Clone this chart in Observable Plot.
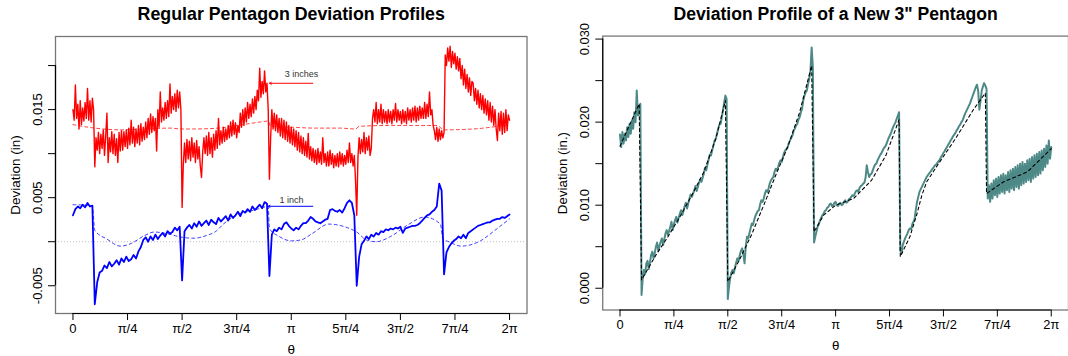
<!DOCTYPE html>
<html><head><meta charset="utf-8">
<script src="https://cdn.jsdelivr.net/npm/d3@7"></script>
<script src="https://cdn.jsdelivr.net/npm/@observablehq/plot@0.6"></script>
<style>
body{margin:0;background:#fff;}
#fig{position:relative;width:1068px;height:356px;overflow:hidden;background:#fff;}
.panel{position:absolute;top:0;}
</style></head><body>
<div id="fig"><div class="panel" id="left" style="left:0"></div><div class="panel" id="right" style="left:534px"></div></div>
<script>
// ---------- data ----------
const tickLabels = ["0", "π/4", "π/2", "3π/4", "π", "5π/4", "3π/2", "7π/4", "2π"];
const tickMultiples = [0, 0.25, 0.5, 0.75, 1, 1.25, 1.5, 1.75, 2]; // × π

// 3-inch regular pentagon, deviation in units of 0.0001 in, every 1 degree (0..360)
const red3in = [
150,138,178,140,156,128,160,133,152,137,
158,140,174,138,160,136,163,150,85,118,
104,124,100,122,106,127,98,120,146,90,
118,102,125,100,122,98,117,90,124,103,
126,104,125,108,127,106,129,110,138,112,
130,108,128,112,132,110,134,114,130,116,
136,118,140,122,145,124,142,126,140,103,
150,130,170,136,152,138,158,140,160,142,
179,146,165,150,168,148,172,152,170,150,
39,88,112,90,116,94,114,92,118,96,
112,90,115,94,108,86,73,102,118,100,
120,98,124,100,118,96,122,104,126,106,
140,110,126,112,130,114,128,116,132,118,
136,120,138,122,135,118,132,124,146,130,
150,132,152,136,158,140,156,142,162,146,
165,150,172,160,197,164,182,168,194,170,
180,150,71,118,150,128,146,126,144,124,
140,120,140,118,138,116,136,114,132,112,
130,110,128,108,126,104,124,102,120,100,
118,98,114,96,123,94,108,92,106,90,
104,88,106,90,102,88,118,90,100,86,
102,86,104,88,100,84,98,86,100,85,
102,88,100,86,98,88,104,90,112,90,
100,86,98,70,30,96,118,100,116,102,
124,100,118,104,120,98,106,140,150,136,
158,134,150,136,156,134,150,136,148,134,
150,136,148,134,150,138,157,136,150,138,
148,134,150,136,148,134,152,138,150,136,
152,138,154,136,152,138,154,140,152,140,
158,140,156,142,170,144,150,132,126,116,
130,114,128,116,126,118,124,212,200,220,
205,222,198,216,202,214,196,210,194,208,
185,200,178,196,174,190,170,186,166,182,
180,160,174,156,172,152,168,150,166,146,
162,144,160,138,158,136,154,132,150,128,
115,146,126,148,122,146,124,150,126,144,
138];

// 1-inch regular pentagon, units of 0.0001 in, every 2 degrees (0..360)
const blue1in = [
30,37,40,38,42,39,44,40,41,
-71,-46,-35,-33,-27,-30,-23,-28,-25,-21,-26,-19,
-23,-17,-22,-20,-15,-19,-11,-6,2,5,
0,6,2,8,3,7,10,6,12,9,
11,16,13,17,-44,12,16,19,15,21,
17,23,18,21,24,19,25,22,20,27,
23,26,29,24,31,27,30,34,29,35,
33,37,34,40,36,39,42,38,45,43,
-39,8,14,12,16,14,20,22,18,15,
13,16,14,18,21,21,24,28,26,23,
22,21,23,25,26,36,37,35,34,36,
33,38,44,47,44,30,-50,-17,-3,1,
6,3,8,6,10,8,12,11,14,13,
15,14,16,15,17,10,15,16,17,18,
18,19,21,24,27,30,31,34,36,40,
66,58,-37,-12,-6,-2,1,3,6,4,
8,4,10,12,14,16,18,19,20,21,
22,22,24,25,26,26,28,27,29,31];

// new 3-inch pentagon, units of 0.0001 in, every 1 degree (0..360)
const new3in = [
185,170,188,174,186,178,194,182,198,186,
202,192,212,200,238,208,218,222,-8,12,
22,17,30,33,23,31,40,44,36,42,
50,55,45,51,56,60,52,59,66,70,
64,69,74,80,70,77,82,86,79,85,
90,94,88,93,99,103,96,102,108,113,
110,114,118,123,117,122,127,131,128,133,
138,145,142,149,155,161,160,166,172,178,
180,186,192,197,198,206,214,224,232,228,
-13,2,12,19,22,18,25,31,36,33,
40,45,48,41,30,50,62,60,66,72,
78,76,82,87,90,93,94,101,106,104,
108,114,118,116,120,126,130,132,134,140,
144,142,146,151,154,152,158,163,166,168,
170,175,178,181,184,190,192,196,198,203,
206,212,216,226,232,236,238,246,252,262,
290,266,55,62,68,74,77,82,85,88,
90,93,94,97,98,101,102,99,100,103,
104,100,99,102,103,100,101,104,106,103,
104,107,108,110,112,111,114,117,118,116,
121,123,124,126,127,133,148,140,134,137,
138,142,146,149,150,154,157,160,162,165,
168,170,172,176,180,183,186,190,194,197,
200,204,208,212,45,42,52,56,60,63,
66,70,72,71,77,80,84,95,104,110,
116,119,122,125,128,131,134,136,138,140,
142,144,146,148,149,151,153,155,158,160,
163,165,168,170,173,175,178,180,183,185,
187,190,192,195,197,200,202,206,210,213,
216,219,222,226,230,234,238,242,245,238,
215,226,238,243,247,244,240,108,124,104,
126,108,130,112,132,110,134,114,136,116,
138,114,136,118,140,116,142,120,144,118,
146,122,148,120,150,124,152,126,150,128,
154,130,156,128,158,132,160,134,162,136,
164,138,166,142,168,146,172,150,178,156,
170];

// fitted (dashed) profiles: angle in degrees, deviation in units of 0.0001 in
const redFitDeg = [0,18,40,60,80,90,100,120,140,155,161,163,180,200,220,233,236,260,280,300,306,330,350,360];
const redFitVal = [133,129,127,128,129,128,128,129,133,136,137,131,130,129,129,128,131,132,132,132,127,128,131,133];
const blueFitDeg = [0,16,18,28,39,48,59,67,78,90,100,110,118,124,136,150,161,162,170,180,188,197,211,224,234,242,250,262,276,290,303,305,310,320,336,348,360];
const blueFitVal = [42,41,13,3,-5,-2,7,11,9,5,4,7,12,20,31,36,40,15,6,1,2,9,20,17,11,2,0,6,19,28,20,3,0,-5,1,13,26];
const newFitDeg = [0,16,18,30,40,50,60,70,80,88,90,100,110,120,130,140,150,160,162,170,180,195,210,222,233,234,242,248,252,256,265,280,295,305,306,320,340,360];
const newFitVal = [171,222,10,40,62,86,112,140,180,226,8,35,65,100,136,170,212,268,68,88,100,108,130,160,203,38,62,90,112,128,148,180,215,235,114,128,140,168];

const leftYTicks = [-0.005, 0, 0.005, 0.010, 0.015, 0.020];
const leftYLabels = [{v: 0.015, t: "0.015"}, {v: 0.005, t: "0.005"}, {v: -0.005, t: "-0.005"}];
const rightYTicks = [0, 0.005, 0.010, 0.015, 0.020, 0.025, 0.030];
const rightYLabels = [{v: 0, t: "0.000"}, {v: 0.010, t: "0.010"}, {v: 0.020, t: "0.020"}, {v: 0.030, t: "0.030"}];

// ---------- build tables ----------
const PI = Math.PI;
const UNIT = 1e-4; // inches per stored unit
const rad = d => d * PI / 180;
const series = (arr, stepDeg) => arr.map((v, i) => ({t: rad(i * stepDeg), v: v * UNIT}));
const fit = (ds, vs) => ds.map((d, i) => ({t: rad(d), v: vs[i] * UNIT}));
const tickThetas = tickMultiples.map(k => k * PI);
const xDomain = [-0.04 * 2 * PI, 1.04 * 2 * PI];
const FONT = "'Liberation Sans', Arial, Helvetica, sans-serif";

function panel({el, width, marginLeft, marginRight, yDomain, yTicks, yLabels, yTitle, title, marks}) {
  const p = Plot.plot({
    width, height: 356, marginLeft, marginRight, marginTop: 36, marginBottom: 43,
    style: {fontFamily: FONT, fontSize: "13px", background: "white", color: "black", overflow: "visible"},
    x: {type: "linear", domain: xDomain, axis: null},
    y: {type: "linear", domain: yDomain, axis: null},
    marks: [
      Plot.frame({stroke: "#777", strokeWidth: 1.3}),
      ...marks,
      Plot.ruleY([yDomain[0]], {x1: 0, x2: 2 * PI, stroke: "black", strokeWidth: 1.2}),
      Plot.ruleX([xDomain[0]], {y1: yTicks[0], y2: yTicks[yTicks.length - 1], stroke: "black", strokeWidth: 1.2}),
      Plot.axisX({ticks: tickThetas, tickFormat: (d, i) => tickLabels[i], tickSize: 7, tickPadding: 3, label: null, fontSize: 13}),
      Plot.axisY({ticks: yTicks, tickSize: 7, tickFormat: () => "", label: null}),
      Plot.text(yLabels, {y: "v", text: "t", frameAnchor: "left", rotate: -90, dx: -18, textAnchor: "middle", lineAnchor: "middle", fontSize: 13}),
      Plot.text([yTitle], {frameAnchor: "left", rotate: -90, dx: -40, textAnchor: "middle", lineAnchor: "middle", fontSize: 13.5}),
      Plot.text(["θ"], {frameAnchor: "bottom", dy: 36, lineAnchor: "middle", fontSize: 13.5}),
      Plot.text([title], {frameAnchor: "top", dy: -22, lineAnchor: "middle", fontSize: 17.8, fontWeight: "bold"})
    ]
  });
  document.getElementById(el).appendChild(p);
}

panel({
  el: "left", width: 540, marginLeft: 55, marginRight: 13.5,
  yDomain: [-0.00815, 0.0233], yTicks: leftYTicks, yLabels: leftYLabels,
  yTitle: "Deviation (in)", title: "Regular Pentagon Deviation Profiles",
  marks: [
    Plot.ruleY([0], {stroke: "#b0b0b0", strokeWidth: 0.8, strokeDasharray: "1,2"}),
    Plot.line(fit(redFitDeg, redFitVal), {x: "t", y: "v", stroke: "#ff0000", strokeWidth: 1, strokeDasharray: "3,3", strokeOpacity: 0.75, curve: "monotone-x"}),
    Plot.line(series(red3in, 1), {x: "t", y: "v", stroke: "#ff0000", strokeWidth: 1.4}),
    Plot.line(fit(blueFitDeg, blueFitVal), {x: "t", y: "v", stroke: "#0000ff", strokeWidth: 1, strokeDasharray: "3,3", strokeOpacity: 0.75, curve: "monotone-x"}),
    Plot.line(series(blue1in, 2), {x: "t", y: "v", stroke: "#0000ff", strokeWidth: 1.8}),
    Plot.arrow([{x1: 3.452, x2: 2.829, y: 0.01799}], {x1: "x1", x2: "x2", y1: "y", y2: "y", stroke: "#ff0000", strokeWidth: 1, headLength: 3}),
    Plot.arrow([{x1: 3.452, x2: 2.810, y: 0.00402}], {x1: "x1", x2: "x2", y1: "y", y2: "y", stroke: "#0000ff", strokeWidth: 1, headLength: 3}),
    Plot.text([{x: 3.289, y: 0.01902, t: "3 inches"}], {x: "x", y: "y", text: "t", fill: "#333", fontSize: 9}),
    Plot.text([{x: 3.145, y: 0.00478, t: "1 inch"}], {x: "x", y: "y", text: "t", fill: "#333", fontSize: 9})
  ]
});

panel({
  el: "right", width: 540, marginLeft: 69, marginRight: 0,
  yDomain: [-0.00262, 0.03036], yTicks: rightYTicks, yLabels: rightYLabels,
  yTitle: "Deviation (in.)", title: "Deviation Profile of a New 3\" Pentagon",
  marks: [
    Plot.line(series(new3in, 1), {x: "t", y: "v", stroke: "#4d8987", strokeWidth: 2}),
    Plot.line(fit(newFitDeg, newFitVal), {x: "t", y: "v", stroke: "black", strokeWidth: 1.1, strokeDasharray: "3,3"})
  ]
});
</script>
</body></html>
